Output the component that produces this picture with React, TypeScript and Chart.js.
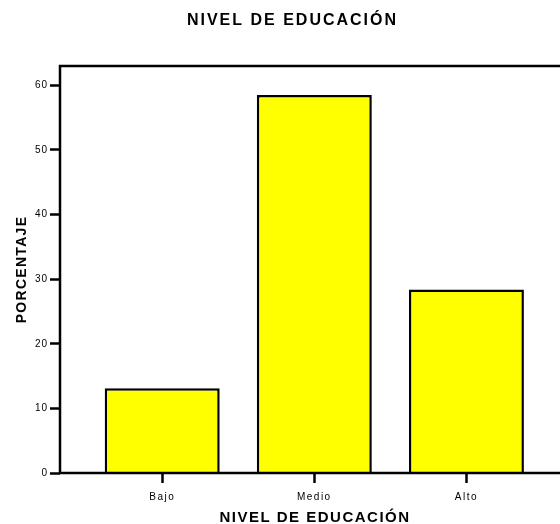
import React, { useEffect, useRef } from "react";
import { Chart, registerables } from "chart.js";

Chart.register(...registerables);

const CHART_TITLE = "NIVEL DE EDUCACIÓN";
const X_TITLE = "NIVEL DE EDUCACIÓN";
const Y_TITLE = "PORCENTAJE";
const CATEGORIES = ["Bajo", "Medio", "Alto"];
const PERCENT = [13.1, 58.5, 28.4];
const Y_TICKS = [0, 10, 20, 30, 40, 50, 60];

const FONT = "'Liberation Sans', Arial, Helvetica, sans-serif";

function withSpacing(obj: any, method: string, spacing: string, dx = 0) {
  const orig = obj[method];
  if (!orig || orig.__spaced) return;
  const wrapped = function (this: any, ...args: any[]) {
    const ctx = this.ctx || (this.chart && this.chart.ctx);
    ctx.save();
    (ctx as any).letterSpacing = spacing;
    if (dx) ctx.translate(dx, 0);
    const r = orig.apply(this, args);
    ctx.restore();
    return r;
  };
  (wrapped as any).__spaced = true;
  obj[method] = wrapped;
}

const spacingPlugin = {
  id: "spacing",
  beforeDraw(chart: any) {
    if (chart.titleBlock) withSpacing(chart.titleBlock, "draw", "2px", 7.5);
    const x = chart.scales.x;
    const y = chart.scales.y;
    if (x) {
      withSpacing(x, "drawLabels", "1.5px");
      withSpacing(x, "drawTitle", "1.5px");
    }
    if (y) {
      withSpacing(y, "drawLabels", "1px");
      withSpacing(y, "drawTitle", "1.3px");
    }
  },
};

const framePlugin = {
  id: "frame",
  afterDatasetsDraw(chart: any) {
    const { ctx, chartArea } = chart;
    ctx.save();
    ctx.strokeStyle = "#000";
    ctx.lineWidth = 2.5;
    ctx.strokeRect(
      chartArea.left,
      chartArea.top,
      chartArea.right - chartArea.left,
      chartArea.bottom - chartArea.top
    );
    ctx.restore();
  },
};

export default function App() {
  const ref = useRef<HTMLCanvasElement | null>(null);

  useEffect(() => {
    if (!ref.current) return;
    const chart = new Chart(ref.current, {
      type: "bar",
      data: {
        datasets: [
          {
            data: CATEGORIES.map((c, i) => ({ x: i, y: PERCENT[i] })),
            backgroundColor: "#ffff00",
            borderColor: "#000000",
            borderWidth: 2.5,
            categoryPercentage: 1,
            barPercentage: 0.756,
          },
        ],
      },
      options: {
        responsive: false,
        animation: false,
        devicePixelRatio: 1,
        layout: { padding: { left: 0, right: 18, top: 0, bottom: 0 } },
        plugins: {
          legend: { display: false },
          tooltip: { enabled: false },
          title: {
            display: true,
            text: CHART_TITLE,
            color: "#000",
            font: { family: FONT, size: 16, weight: "bold", lineHeight: 1.2 },
            padding: { top: 10.5, bottom: 36.3 },
          },
        },
        scales: {
          x: {
            type: "linear",
            offset: false,
            min: -0.672,
            max: 2.681,
            afterBuildTicks: (s: any) => {
              s.ticks = CATEGORIES.map((_, i) => ({ value: i }));
            },
            afterFit: (s: any) => {
              s.height = 51;
            },
            ticks: {
              color: "#000",
              font: { family: FONT, size: 10 },
              padding: 8.5,
              maxRotation: 0,
              autoSkip: false,
              callback: (v: any) => CATEGORIES[v as number] ?? "",
            },
            grid: {
              display: true,
              offset: false,
              drawOnChartArea: false,
              drawTicks: true,
              tickLength: 10,
              tickWidth: 2.5,
              tickColor: "#000",
              color: "#000",
            },
            border: { display: false },
            title: {
              display: true,
              text: X_TITLE,
              color: "#000",
              font: { family: FONT, size: 15, weight: "bold", lineHeight: 0.8 },
              padding: { top: 0, bottom: 0.5 },
            },
          },
          y: {
            type: "linear",
            min: 0,
            max: 63,
            afterBuildTicks: (s: any) => {
              s.ticks = Y_TICKS.map((v) => ({ value: v }));
            },
            afterFit: (s: any) => {
              s.width = 60;
            },
            ticks: {
              color: "#000",
              font: { family: FONT, size: 10 },
              padding: 2,
            },
            grid: {
              display: true,
              drawOnChartArea: false,
              drawTicks: true,
              tickLength: 10,
              tickWidth: 2.5,
              tickColor: "#000",
              color: "#000",
            },
            border: { display: false },
            title: {
              display: true,
              text: Y_TITLE,
              color: "#000",
              font: { family: FONT, size: 14, weight: "bold", lineHeight: 1.2 },
              padding: { top: 13.6, bottom: 0 },
            },
          },
        },
      },
      plugins: [spacingPlugin, framePlugin],
    } as any);
    return () => chart.destroy();
  }, []);

  return (
    <div
      style={{
        position: "fixed",
        left: 0,
        top: 0,
        width: 560,
        height: 524,
        overflow: "hidden",
        background: "#fff",
      }}
    >
      <canvas ref={ref} width={588} height={524} style={{ display: "block" }} />
    </div>
  );
}
